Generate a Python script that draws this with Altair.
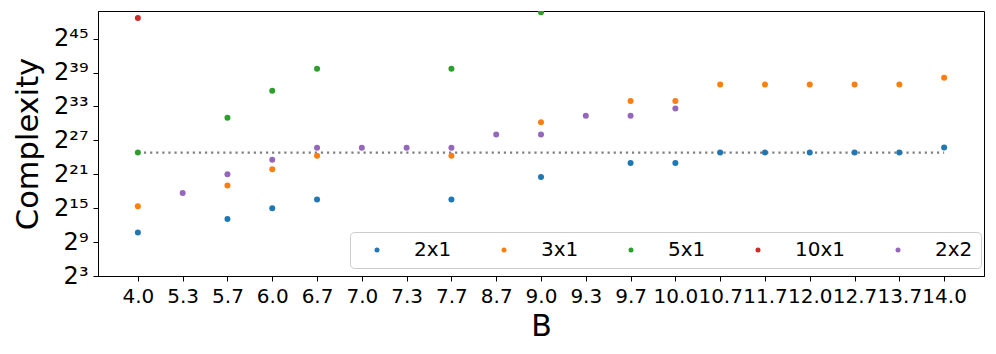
import altair as alt
import pandas as pd

# Categories on the x axis (B)
B = ["4.0", "5.3", "5.7", "6.0", "6.7", "7.0", "7.3", "7.7", "8.7", "9.0",
     "9.3", "9.7", "10.0", "10.7", "11.7", "12.0", "12.7", "13.7", "14.0"]

# log2(Complexity) per series, None where no point
s_2x1 = [10.68, None, 13.1, 15.0, 16.53, None, None, 16.53, None, 20.54,
         None, 23.02, 23.02, 24.87, 24.87, 24.87, 24.87, 24.87, 25.74]
s_3x1 = [15.35, None, 19.0, 21.9, 24.27, None, None, 24.27, None, 30.23,
         None, 33.95, 33.95, 36.87, 36.87, 36.87, 36.87, 36.87, 38.09]
s_5x1 = [24.85, None, 31.0, 35.78, 39.68, None, None, 39.68, None, 49.66,
         None, None, None, None, None, None, None, None, None]
s_10x1 = [48.67, None, None, None, None, None, None, None, None, None,
          None, None, None, None, None, None, None, None, None]
s_2x2 = [None, 17.71, 21.02, 23.56, 25.68, 25.68, 25.68, 25.68, 28.04, 28.04,
         31.35, 31.35, 32.65, None, None, None, None, None, None]

series_names = ["2x1", "3x1", "5x1", "10x1", "2x2"]
series_vals = [s_2x1, s_3x1, s_5x1, s_10x1, s_2x2]
colors = ["#1f77b4", "#ff7f0e", "#2ca02c", "#d62728", "#9467bd"]

ref_exp = 24.85  # dotted reference level (log2)

y_ticks_exp = [3, 9, 15, 21, 27, 33, 39, 45]
y_tick_labels = ["2³", "2⁹", "2¹⁵", "2²¹", "2²⁷", "2³³", "2³⁹", "2⁴⁵"]

rows = []
for name, vals in zip(series_names, series_vals):
    for b, v in zip(B, vals):
        if v is not None:
            rows.append({"B": b, "series": name, "C": 2.0 ** v})
df = pd.DataFrame(rows)
ref_df = pd.DataFrame({"B": B, "C": [2.0 ** ref_exp] * len(B)})

font = "DejaVu Sans"
label_arr = "[" + ",".join("'" + s + "'" for s in y_tick_labels) + "]"
label_expr = label_arr + "[round((log(datum.value)/log(2)-3)/6)]"

x_scale = alt.Scale(type="point", padding=0.89)
x_enc = alt.X("B:O", sort=B, scale=x_scale,
              axis=alt.Axis(title="B", labelAngle=0, labelAlign="center",
                            labelFontSize=20, labelFont=font,
                            titleFontSize=30, titleFont=font, titleFontWeight="normal",
                            titleBaseline="alphabetic", titleY=59,
                            tickSize=5, labelPadding=5, grid=False,
                            domainColor="black", tickColor="black"))
y_scale = alt.Scale(type="log", base=2, domain=[2.0 ** 3, 2.0 ** 49.9], nice=False)
y_enc = alt.Y("C:Q", scale=y_scale,
              axis=alt.Axis(title="Complexity", values=[2.0 ** k for k in y_ticks_exp],
                            labelExpr=label_expr, labelFontSize=24, labelFont=font,
                            titleFontSize=30.5, titleFont=font, titleFontWeight="normal",
                            titleBaseline="alphabetic", titleX=-61,
                            tickSize=5, labelPadding=5, grid=False,
                            domainColor="black", tickColor="black"))

line = alt.Chart(ref_df).mark_line(color="gray", strokeWidth=2.2, strokeDash=[2.2, 3.9]).encode(
    x=x_enc, y=y_enc
)

points = alt.Chart(df).mark_circle(size=36, opacity=1, clip=True).encode(
    x=x_enc,
    y=y_enc,
    color=alt.Color("series:N",
                    scale=alt.Scale(domain=series_names, range=colors),
                    legend=alt.Legend(title=None, orient="none", legendX=252, legendY=221,
                                      direction="horizontal", columns=5,
                                      labelFontSize=20, labelFont=font, labelLimit=200,
                                      symbolType="circle", symbolSize=25,
                                      symbolOffset=9, labelOffset=27,
                                      columnPadding=33, padding=8,
                                      strokeColor="#cccccc", cornerRadius=4,
                                      fillColor="rgba(255,255,255,0.8)")),
)

chart = alt.layer(line, points).properties(
    width=886, height=265,
    autosize=alt.AutoSizeParams(type="none"),
    padding={"left": 90, "top": 3, "right": 4, "bottom": 68},
).configure_view(stroke="black", strokeWidth=1)

chart.save("out.html", embed_options={"renderer": "svg", "actions": False})
